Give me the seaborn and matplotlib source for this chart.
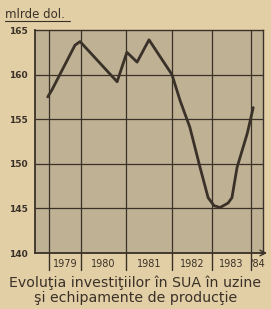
import matplotlib
matplotlib.use("Agg")
import matplotlib.pyplot as plt
import seaborn as sns
import pandas as pd
import numpy as np

# data (x in fractional years, y in billions of dollars)
years = [1979.22, 1979.32, 1979.86, 1979.98, 1980.85, 1981.08, 1981.32, 1981.60,
         1982.14, 1982.33, 1982.56, 1982.80, 1982.99, 1983.13, 1983.27, 1983.46,
         1983.55, 1983.67, 1983.91, 1984.05]
values = [157.5, 158.3, 163.3, 163.7, 159.2, 162.5, 161.4, 163.9,
          160.0, 157.1, 154.1, 149.6, 146.2, 145.3, 145.1, 145.6,
          146.2, 149.6, 153.4, 156.3]
year_bounds = [1979.25, 1980.0, 1981.06, 1982.14, 1983.08, 1984.0]
year_labels = ["1979", "1980", "1981", "1982", "1983", "'84"]
y_ticks = [140, 145, 150, 155, 160, 165]
unit_label = "mlrde dol."
title_lines = ["Evoluţia investiţiilor în SUA în uzine", "şi echipamente de producţie"]

paper = "#e3cfa6"
inner = "#bfb194"
ink = "#3a3128"

sns.set_style("white")
plt.rcParams["font.family"] = ["DejaVu Sans"]

fig = plt.figure(figsize=(2.71, 3.09), dpi=100, facecolor=paper)
ax = fig.add_axes([35/271, 56/309, 228/271, 223/309])
ax.set_facecolor(inner)

df = pd.DataFrame({"year": years, "value": values})
xmin, xmax = 1978.92, 1984.28
ax.set_xlim(xmin, xmax)
ax.set_ylim(140, 165)

for y in y_ticks[1:-1]:
    ax.axhline(y, color=ink, lw=0.9, zorder=1)
for xb in year_bounds:
    ax.axvline(xb, color=ink, lw=0.9, zorder=1)

sns.lineplot(data=df, x="year", y="value", ax=ax, color=ink, lw=2.0, zorder=3)

ax.set_xticks([])
ax.set_yticks(y_ticks)
ax.set_yticklabels([str(t) for t in y_ticks], fontsize=6.5, fontweight="bold", color=ink)
ax.tick_params(axis="y", length=3, width=1, color=ink, pad=2)
ax.set_xlabel("")
ax.set_ylabel("")
for s in ["left", "bottom", "top", "right"]:
    ax.spines[s].set_color(ink)
    ax.spines[s].set_linewidth(1.3)
ax.spines["top"].set_linewidth(1.0)
ax.spines["right"].set_linewidth(1.0)

# year separators below axis and labels
trans = ax.get_xaxis_transform()
for xb in year_bounds:
    ax.plot([xb, xb], [0, -0.075], color=ink, lw=1.0, transform=trans, clip_on=False)
edges = year_bounds + [xmax]
for i, lab in enumerate(year_labels):
    cx = (edges[i] + edges[i + 1]) / 2
    ax.text(cx, -0.048, lab, transform=trans, ha="center", va="center",
            fontsize=7, color=ink)
ax.annotate("", xy=(1.03, 0), xytext=(0.98, 0), xycoords="axes fraction",
            arrowprops=dict(arrowstyle="->", color=ink, lw=1.0))

fig.text(0.018, 0.953, unit_label, fontsize=8.5, color=ink, ha="left", va="center")
fig.add_artist(plt.Line2D([0.018, 0.26], [0.932, 0.932], color=ink, lw=0.8))
fig.text(0.5, 0.085, title_lines[0], fontsize=10.2, color=ink, ha="center", va="center")
fig.text(0.5, 0.035, title_lines[1], fontsize=10.2, color=ink, ha="center", va="center")

fig.savefig("out.png", dpi=100, facecolor=paper)
